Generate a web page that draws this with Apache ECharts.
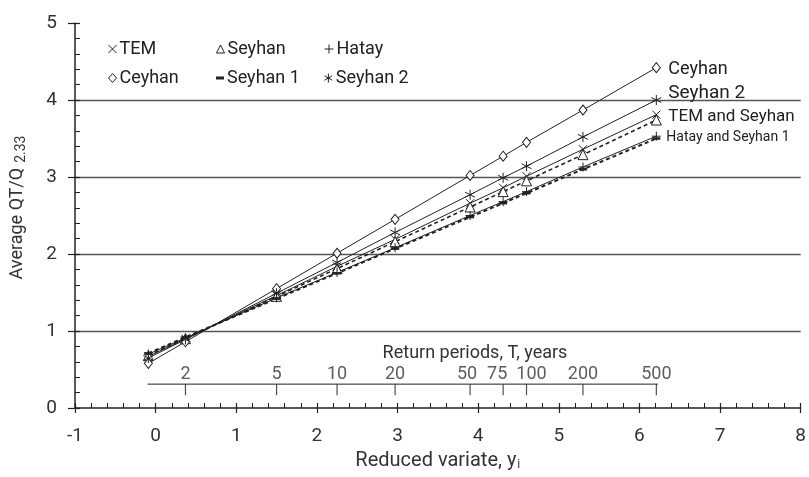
<!DOCTYPE html>
<html>
<head>
<meta charset="utf-8">
<script src="https://cdn.jsdelivr.net/npm/echarts@6/dist/echarts.min.js"></script>
<style>
html,body{margin:0;padding:0;background:#fff;}
#chart{width:809px;height:477px;}
</style>
</head>
<body>
<div id="chart"></div>
<script>
// Reduced variate of each plotted point
const xVariate = [-0.09, 0.37, 1.50, 2.25, 2.97, 3.90, 4.31, 4.60, 5.30, 6.21];
// Average QT/Q2.33 per region
const temValues     = [0.67, 0.90, 1.46, 1.84, 2.19, 2.66, 2.86, 3.01, 3.36, 3.81];
const seyhanValues  = [0.68, 0.90, 1.45, 1.81, 2.16, 2.61, 2.81, 2.95, 3.29, 3.74];
const hatayValues   = [0.70, 0.91, 1.43, 1.76, 2.08, 2.50, 2.68, 2.81, 3.13, 3.53];
const ceyhanValues  = [0.58, 0.86, 1.55, 2.01, 2.45, 3.02, 3.27, 3.45, 3.87, 4.42];
const seyhan1Values = [0.71, 0.92, 1.42, 1.75, 2.07, 2.48, 2.66, 2.79, 3.10, 3.50];
const seyhan2Values = [0.65, 0.89, 1.49, 1.89, 2.28, 2.77, 2.99, 3.14, 3.52, 4.00];
// Return period scale
const returnLabels   = ['2', '5', '10', '20', '50', '75', '100', '200', '500'];
const returnVariates = [0.37, 1.50, 2.25, 2.97, 3.90, 4.31, 4.60, 5.30, 6.21];
const returnAxisLevel = 0.31;
const returnAxisSpan  = [-0.10, 6.23];
// Axis ticks
const xTicks = {min: -1, max: 8, interval: 1};
const yTicks = {min: 0, max: 5, interval: 1};

const FONT = 'Roboto, "Noto Sans", sans-serif';
const INK = '#222';
const TXT = '#333';

// small horizontal nudges for crowded return-period labels (styling only)
const returnLabelNudge = {'50': -3, '75': -6, '100': 5};

const SYM = {
  cross: 'path://M0,0L10,10M10,0L0,10',
  plus: 'path://M5,0L5,10M0,5L10,5',
  star: 'path://M5,0L5,10M0.7,2.5L9.3,7.5M9.3,2.5L0.7,7.5'
};

const pair = vals => xVariate.map((x, i) => [x, vals[i]]);

function mkSeries(name, vals, symbol, size, opts) {
  opts = opts || {};
  const s = {
    name: name,
    type: 'line',
    data: pair(vals),
    symbol: symbol,
    symbolSize: size,
    showAllSymbol: true,
    lineStyle: Object.assign({color: INK, width: 1}, opts.line || {}),
    itemStyle: Object.assign({color: '#fff', borderColor: INK, borderWidth: 1}, opts.item || {}),
    z: opts.z || 3
  };
  if (opts.end) {
    s.endLabel = Object.assign({
      show: true, color: INK, fontSize: 18, fontFamily: FONT, distance: 12
    }, opts.end);
  }
  return s;
}

const series = [
  mkSeries('TEM', temValues, SYM.cross, 8, {end: {formatter: 'TEM and Seyhan', fontSize: 17, offset: [0, 2]}}),
  mkSeries('Seyhan', seyhanValues, 'triangle', 10, {line: {type: [4, 3], width: 1.6}}),
  mkSeries('Hatay', hatayValues, SYM.plus, 9, {end: {formatter: 'Hatay and Seyhan 1', fontSize: 14, offset: [-2, 1]}}),
  mkSeries('Ceyhan', ceyhanValues, 'diamond', [8, 10], {end: {formatter: 'Ceyhan', offset: [0, 2]}}),
  mkSeries('Seyhan 1', seyhan1Values, 'rect', [8, 2.5], {line: {type: [4, 3], width: 2}, item: {color: INK, borderWidth: 0}}),
  mkSeries('Seyhan 2', seyhan2Values, SYM.star, 10, {end: {formatter: 'Seyhan 2', offset: [0, -7], fontSize: 19}})
];

// Return period secondary scale
series.push({
  type: 'line', silent: true, symbol: 'none',
  data: [[returnAxisSpan[0], returnAxisLevel], [returnAxisSpan[1], returnAxisLevel]],
  lineStyle: {color: INK, width: 1}, z: 2
});
series.push({
  type: 'scatter', silent: true,
  data: returnVariates.map(v => [v, returnAxisLevel]),
  symbol: 'rect', symbolSize: [1.2, 11], symbolOffset: [0, 5.5],
  itemStyle: {color: INK}, z: 2
});
series.push({
  type: 'scatter', silent: true,
  data: returnVariates.map((v, i) => ({
    value: [v, returnAxisLevel],
    label: {formatter: returnLabels[i], offset: [returnLabelNudge[returnLabels[i]] || 0, 0]}
  })),
  symbolSize: 0,
  label: {show: true, position: 'top', distance: 1, fontSize: 18, color: TXT, fontFamily: FONT},
  z: 2
});

const legendDefs = [
  {name: 'TEM', icon: SYM.cross, left: 103, top: 35, w: 8, h: 8},
  {name: 'Seyhan', icon: 'triangle', left: 211, top: 35, w: 8, h: 8},
  {name: 'Hatay', icon: SYM.plus, left: 319, top: 35, w: 9, h: 9},
  {name: 'Ceyhan', icon: 'diamond', left: 103, top: 64, w: 8, h: 9},
  {name: 'Seyhan 1', icon: 'rect', left: 211, top: 64, w: 8, h: 3, fill: true},
  {name: 'Seyhan 2', icon: SYM.star, left: 319, top: 64, w: 9, h: 9}
];
const legends = legendDefs.map(d => ({
  data: [d.name], icon: d.icon, left: d.left, top: d.top,
  itemWidth: d.w, itemHeight: d.h, itemGap: 0,
  selectedMode: false,
  textStyle: {fontSize: 18, color: INK, fontFamily: FONT, padding: [0, 0, 0, -2]},
  itemStyle: d.fill ? {color: INK, borderWidth: 0} : {color: '#fff', borderColor: INK, borderWidth: 1},
  lineStyle: {width: 0}
}));

const option = {
  animation: false,
  textStyle: {fontFamily: FONT},
  grid: {left: 75, right: 8, top: 23, bottom: 69},
  legend: legends,
  graphic: [{
    type: 'text', x: 475, y: 353,
    style: {text: 'Return periods, T, years', fill: TXT, font: '18px ' + FONT, textAlign: 'center', textVerticalAlign: 'middle'}
  }],
  xAxis: [{
    type: 'value', min: xTicks.min, max: xTicks.max, interval: xTicks.interval,
    axisLine: {onZero: false, lineStyle: {color: INK, width: 1.5}},
    axisTick: {show: true, length: 5, lineStyle: {color: INK, width: 1.2}},
    axisLabel: {fontSize: 19, color: TXT, margin: 19, fontFamily: FONT},
    splitLine: {show: false},
    name: 'Reduced variate, y{s|i}', nameLocation: 'middle', nameGap: 42,
    nameTextStyle: {fontSize: 20, color: TXT, fontFamily: FONT,
      rich: {s: {fontSize: 12, color: TXT, verticalAlign: 'bottom', padding: [8, 0, 0, 1]}}}
  }, {
    type: 'value', min: xTicks.min, max: xTicks.max, interval: xTicks.interval, position: 'bottom',
    axisLine: {show: false, onZero: false},
    axisTick: {show: true, inside: true, length: 5, lineStyle: {color: INK, width: 1.2}},
    minorTick: {show: true, splitNumber: 5, length: 5, lineStyle: {color: INK, width: 1}},
    axisLabel: {show: false}, splitLine: {show: false}
  }],
  yAxis: [{
    type: 'value', min: yTicks.min, max: yTicks.max, interval: yTicks.interval,
    axisLine: {show: true, onZero: false, lineStyle: {color: INK, width: 1.5}},
    axisTick: {show: true, length: 7, lineStyle: {color: INK, width: 1.2}},
    axisLabel: {fontSize: 19, color: TXT, margin: 18, fontFamily: FONT},
    splitLine: {show: true, lineStyle: {color: ['transparent', '#555', '#555', '#555', '#555', 'transparent'], width: 1.3}},
    name: 'Average QT/Q{s|2.33}', nameLocation: 'middle', nameGap: 47, nameRotate: 90,
    nameTextStyle: {fontSize: 18, color: TXT, fontFamily: FONT, padding: [0, 0, 0, 16],
      rich: {s: {fontSize: 14, color: TXT, verticalAlign: 'bottom', padding: [7, 0, 0, 5]}}}
  }, {
    type: 'value', min: yTicks.min, max: yTicks.max, interval: yTicks.interval, position: 'left',
    axisLine: {show: false, onZero: false},
    axisTick: {show: true, inside: true, length: 5, lineStyle: {color: INK, width: 1.2}},
    minorTick: {show: true, splitNumber: 5, length: 5, lineStyle: {color: INK, width: 1}},
    axisLabel: {show: false}, splitLine: {show: false}
  }],
  series: series
};

const chart = echarts.init(document.getElementById('chart'), null, {renderer: 'canvas'});
chart.setOption(option);
</script>
</body>
</html>
